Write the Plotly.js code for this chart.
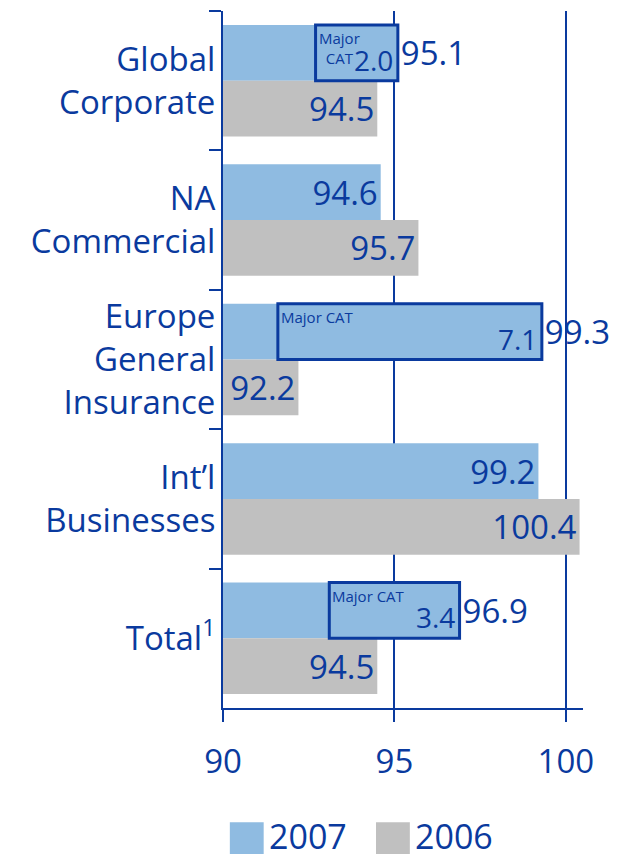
<!DOCTYPE html>
<html>
<head>
<meta charset="utf-8">
<script src="https://cdn.plot.ly/plotly-3.0.1.min.js"></script>
<style>
  html, body { margin: 0; padding: 0; background: #fff; }
  #chart { width: 626px; height: 854px; }
</style>
</head>
<body>
<div id="chart"></div>
<script>
var categories = ['Global<br>Corporate', 'NA<br>Commercial', 'Europe<br>General<br>Insurance', 'Int\u2019l<br>Businesses', 'Total<sup>1</sup>'];
var ratio2007 = [95.1, 94.6, 99.3, 99.2, 96.9];
var ratio2006 = [94.5, 95.7, 92.2, 100.4, 94.5];
var seriesNames = ['2007', '2006'];

// major catastrophe boxes (rows with a CAT share of the 2007 bar)
var catRows = [0, 2, 4];
var catSize = [2.0, 7.1, 3.4];
var catBoxFrom = [92.7, 91.6, 93.1];
var catLabels = ['Major<br>CAT', 'Major CAT', 'Major CAT'];

var xTicks = [90, 95, 100];

var navy = '#0a3a9e';
var blue = '#8fbbe1';
var grey = '#c0c0c0';
var font = 'Open Sans, Noto Sans, sans-serif';

var pos2007 = ratio2007.map(function (v, i) { return catRows.indexOf(i) >= 0 ? 'outside' : 'inside'; });

var trace2007 = {
  type: 'bar',
  orientation: 'h',
  name: seriesNames[0],
  y: categories,
  x: ratio2007.map(function (v) { return v - 90; }),
  base: 90,
  marker: { color: blue },
  text: ratio2007.map(function (v) { return v.toFixed(1); }),
  textposition: pos2007,
  insidetextanchor: 'end',
  constraintext: 'none',
  cliponaxis: false,
  textfont: { family: font, size: 33, color: navy },
  hoverinfo: 'skip'
};

var trace2006 = {
  type: 'bar',
  orientation: 'h',
  name: seriesNames[1],
  y: categories,
  x: ratio2006.map(function (v) { return v - 90; }),
  base: 90,
  marker: { color: grey },
  text: ratio2006.map(function (v) { return v.toFixed(1); }),
  textposition: 'inside',
  insidetextanchor: 'end',
  constraintext: 'none',
  cliponaxis: false,
  textfont: { family: font, size: 33, color: navy },
  hoverinfo: 'skip'
};

var shapes = [];
var annotations = [];

catRows.forEach(function (row, k) {
  shapes.push({
    type: 'rect', xref: 'x', yref: 'y',
    x0: catBoxFrom[k], x1: ratio2007[row],
    y0: row - 0.4, y1: row,
    line: { color: navy, width: 3 },
    fillcolor: 'rgba(0,0,0,0)'
  });
  annotations.push({
    xref: 'x', yref: 'y', x: catBoxFrom[k], y: row - 0.4,
    xanchor: 'left', yanchor: 'top', xshift: 1, yshift: -1,
    text: catLabels[k], showarrow: false, align: 'center',
    font: { family: font, size: 15, color: navy }
  });
  annotations.push({
    xref: 'x', yref: 'y', x: ratio2007[row], y: row - 0.15,
    xanchor: 'right', yanchor: 'middle', xshift: -3,
    text: catSize[k].toFixed(1), showarrow: false,
    font: { family: font, size: 28, color: navy }
  });
});

// legend drawn by hand so the swatches can be large
var legendX = [0.019, 0.425];
var legendColors = [blue, grey];
seriesNames.forEach(function (name, i) {
  shapes.push({
    type: 'rect', xref: 'paper', yref: 'paper',
    x0: legendX[i], x1: legendX[i] + 0.094,
    y0: -0.164, y1: -0.215,
    line: { width: 0 }, fillcolor: legendColors[i]
  });
  annotations.push({
    xref: 'paper', yref: 'paper', x: legendX[i] + 0.104, y: -0.184,
    xanchor: 'left', yanchor: 'middle',
    text: name, showarrow: false,
    font: { family: font, size: 34, color: navy }
  });
});

var layout = {
  width: 626,
  height: 854,
  margin: { l: 223, r: 43, t: 11, b: 146 },
  paper_bgcolor: '#fff',
  plot_bgcolor: '#fff',
  barmode: 'group',
  bargap: 0.2,
  bargroupgap: 0,
  showlegend: false,
  font: { family: font, color: navy },
  xaxis: {
    range: [90, 100.5],
    tickvals: xTicks,
    ticktext: xTicks.map(String),
    ticks: 'outside',
    ticklen: 12,
    tickwidth: 2,
    tickcolor: navy,
    showline: true,
    linecolor: navy,
    linewidth: 2,
    showgrid: true,
    gridcolor: navy,
    gridwidth: 2,
    zeroline: false,
    tickfont: { family: font, size: 33, color: navy },
    ticklabelstandoff: 11,
    fixedrange: true
  },
  yaxis: {
    type: 'category',
    range: [4.5, -0.5],
    ticks: 'outside',
    tickson: 'boundaries',
    ticklen: 12,
    tickwidth: 2,
    tickcolor: navy,
    showline: true,
    linecolor: navy,
    linewidth: 2,
    showgrid: false,
    tickfont: { family: font, size: 33, color: navy },
    ticklabelstandoff: -1,
    fixedrange: true
  },
  shapes: shapes,
  annotations: annotations
};

Plotly.newPlot('chart', [trace2007, trace2006], layout, { displayModeBar: false, staticPlot: true });
</script>
</body>
</html>
